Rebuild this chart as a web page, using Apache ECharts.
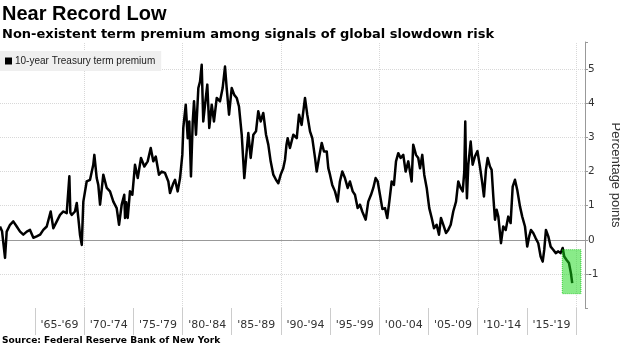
<!DOCTYPE html>
<html><head><meta charset="utf-8">
<script src="https://cdn.jsdelivr.net/npm/echarts@6/dist/echarts.min.js"></script>
<style>html,body{margin:0;padding:0;background:#fff}#c{width:620px;height:348px}</style>
</head><body><div id="c"></div>
<script>
const periodLabels = ["'65-'69","'70-'74","'75-'79","'80-'84","'85-'89","'90-'94","'95-'99","'00-'04","'05-'09","'10-'14","'15-'19"];
const yTicks = [-1,0,1,2,3,4,5];
const decadeYears = [1970,1980,1990,2000,2010,2020];
const years = [
1961.44,1961.65,1961.95,1962.12,1962.46,1962.79,1963.14,1963.48,1963.81,1964.16,1964.49,1964.83,
1965.17,1965.51,1965.84,1966.19,1966.59,1966.86,1967.21,1967.54,1967.88,1968.22,1968.49,1968.59,1968.73,1969.06,1969.24,1969.40,1969.57,1969.75,1969.91,
1970.25,1970.59,1970.92,1971.03,1971.27,1971.43,1971.61,1971.94,1972.29,1972.62,1972.96,1973.30,1973.54,1973.81,1974.07,1974.15,1974.27,1974.42,1974.65,1974.89,
1975.16,1975.44,1975.77,1976.11,1976.45,1976.76,1977.02,1977.27,1977.60,1977.88,1978.21,1978.55,1978.72,1979.06,1979.23,1979.50,1979.74,1979.97,
1980.07,1980.32,1980.52,1980.68,1980.85,1981.03,1981.16,1981.36,1981.60,1981.77,1981.94,1982.10,1982.28,1982.51,1982.71,1982.96,1983.19,1983.47,1983.80,1984.07,1984.31,1984.48,1984.72,1984.99,
1985.25,1985.50,1985.73,1986.01,1986.17,1986.27,1986.51,1986.68,1986.92,1987.19,1987.46,1987.69,1987.94,1988.20,1988.48,1988.71,1988.95,1989.22,1989.49,1989.73,1989.97,
1990.23,1990.41,1990.56,1990.68,1990.91,1991.25,1991.60,1991.83,1992.10,1992.44,1992.67,1992.95,1993.18,1993.46,1993.63,1993.86,1994.14,1994.37,1994.65,1994.81,1994.98,
1995.21,1995.49,1995.76,1995.99,1996.23,1996.50,1996.78,1997.01,1997.29,1997.52,1997.79,1998.03,1998.26,1998.61,1998.87,1999.15,1999.38,1999.62,1999.83,
2000.06,2000.31,2000.57,2000.80,2001.01,2001.25,2001.48,2001.69,2001.92,2002.16,2002.43,2002.67,2002.94,2003.28,2003.44,2003.72,2003.95,2004.13,2004.36,2004.56,2004.81,
2005.07,2005.32,2005.55,2005.82,2006.06,2006.26,2006.50,2006.77,2007.00,2007.25,2007.51,2007.79,2008.02,2008.26,2008.47,2008.63,2008.73,2008.80,2008.90,2009.04,2009.28,2009.48,2009.72,2009.97,
2010.22,2010.46,2010.63,2010.83,2011.01,2011.24,2011.41,2011.58,2011.75,2011.92,2012.09,2012.36,2012.59,2012.84,2013.10,2013.34,2013.55,2013.78,2014.01,2014.29,2014.52,2014.80,
2015.03,2015.23,2015.41,2015.64,2015.88,2016.15,2016.39,2016.60,2016.76,2016.93,2017.17,2017.41,2017.67,2017.92,2018.18,2018.42,2018.63,2018.79,2019.03,2019.27,2019.47,2019.60
];
const premium = [
0.39,0.25,-0.53,0.24,0.44,0.54,0.39,0.24,0.15,0.24,0.29,0.06,
0.10,0.15,0.29,0.39,0.83,0.34,0.54,0.73,0.83,0.78,1.86,0.80,0.73,0.83,1.08,0.64,0.15,-0.15,1.12,
1.71,1.76,2.20,2.49,1.81,1.61,1.03,1.91,1.52,1.42,1.12,0.93,0.44,1.03,1.32,0.64,1.10,0.64,1.42,1.32,
2.20,1.81,2.40,2.15,2.30,2.69,2.30,2.44,1.91,2.00,1.96,1.71,1.37,1.66,1.76,1.42,1.81,2.49,
3.28,3.96,2.98,3.47,1.86,3.47,4.06,3.08,4.45,4.64,5.13,3.47,3.96,4.55,3.28,3.96,3.47,4.16,4.06,4.45,5.08,4.45,3.67,4.45,
4.25,4.16,3.91,3.08,2.30,1.81,2.59,3.13,2.40,3.08,3.18,3.77,3.47,3.72,3.08,2.79,2.30,1.91,1.76,1.66,1.91,
2.10,2.35,2.79,2.98,2.69,3.08,2.98,3.67,3.37,4.16,3.67,3.18,2.98,2.40,2.00,2.40,2.84,2.59,2.59,2.10,1.91,
1.61,1.42,1.12,1.71,2.00,1.81,1.52,1.71,1.42,1.32,0.93,1.03,0.83,0.59,1.12,1.32,1.52,1.81,1.71,
1.32,0.90,0.93,0.64,1.12,1.71,1.61,2.30,2.54,2.40,2.49,2.00,2.30,1.71,2.79,2.49,2.40,2.10,2.49,1.91,1.52,
0.93,0.64,0.34,0.44,0.15,0.64,0.44,0.20,0.29,0.44,0.83,1.12,1.71,1.52,1.42,2.00,3.47,2.20,1.22,2.20,2.88,2.20,2.45,2.60,
2.15,1.66,1.27,2.05,2.40,2.15,2.05,1.27,0.59,0.88,0.68,-0.10,0.39,0.29,0.68,0.49,1.56,1.76,1.47,0.98,0.68,0.39,
-0.20,0.10,0.29,0.20,0.05,-0.10,-0.49,-0.64,-0.29,0.29,0.10,-0.20,-0.29,-0.39,-0.34,-0.39,-0.24,-0.49,-0.59,-0.68,-0.98,-1.27
];
const highlightFrom = [2018.59, -0.29];
const highlightTo = [2020.49, -1.58];
const xMin = 1961.44, xMax = 2020.90, yMin = -2, yMax = 5.8;

const seriesData = years.map((y, i) => [y, premium[i]]);
const chart = echarts.init(document.getElementById('c'), null, {renderer: 'canvas'});
const FONT = "'Liberation Sans', Arial, sans-serif";
const DV = "'DejaVu Sans', sans-serif";
const option = {
  animation: false,
  title: [
    {text: 'Near Record Low', left: 2, top: 4, padding: 0,
     textStyle: {fontFamily: FONT, fontWeight: 'bold', fontSize: 20, color: '#000'}},
    {text: 'Non-existent term premium among signals of global slowdown risk', left: 2, top: 28, padding: 0,
     textStyle: {fontFamily: DV, fontWeight: 'bold', fontSize: 13, color: '#000'}},
    {text: 'Source: Federal Reserve Bank of New York', left: 2, top: 336, padding: 0,
     textStyle: {fontFamily: DV, fontWeight: 'bold', fontSize: 9.1, color: '#000'}}
  ],
  legend: {
    data: ['10-year Treasury term premium'], left: 0, top: 51, padding: [5, 6, 5, 5],
    backgroundColor: '#efefef', icon: 'rect', itemWidth: 7, itemHeight: 7, itemGap: 4,
    textStyle: {fontFamily: FONT, fontSize: 10, color: '#222', padding: [0, 0, 0, -2]}
  },
  grid: [
    {left: 0, right: 35, top: 42, bottom: 40, containLabel: false, outerBoundsMode: 'none'},
    {left: 35, right: 44, top: 42, bottom: 40, containLabel: false, outerBoundsMode: 'none'}
  ],
  xAxis: [
    {type: 'value', gridIndex: 0, min: xMin, max: xMax,
     axisLine: {show: true, lineStyle: {color: '#999', width: 1}},
     axisTick: {show: false}, axisLabel: {show: false}, splitLine: {show: false}},
    {type: 'category', gridIndex: 1, data: periodLabels, boundaryGap: true,
     axisLine: {show: false},
     axisTick: {show: true, length: 27, lineStyle: {color: '#ccc', width: 1}},
     axisLabel: {margin: 12, fontFamily: DV, fontSize: 11, color: '#333', interval: 0},
     splitLine: {show: false}}
  ],
  yAxis: [
    {type: 'value', gridIndex: 0, position: 'right', min: yMin, max: yMax, interval: 1,
     name: 'Percentage points', nameLocation: 'middle', nameRotate: -90, nameGap: 20,
     nameTextStyle: {fontFamily: FONT, fontSize: 13, color: '#333'},
     axisLine: {show: true, lineStyle: {color: '#999', width: 1}},
     axisTick: {show: true, length: 3, lineStyle: {color: '#999'}},
     axisLabel: {margin: 3, fontFamily: DV, fontSize: 10.5, color: '#333',
       formatter: v => (yTicks.indexOf(v) >= 0 ? String(v) : '')},
     splitLine: {show: true, showMinLine: false, showMaxLine: false, lineStyle: {color: '#d8d8d8', type: 'dotted', width: 1}}},
    {type: 'value', gridIndex: 1, show: false}
  ],
  series: [
    {name: 'gridlines', type: 'line', xAxisIndex: 0, yAxisIndex: 0, data: [], z: 1, silent: true,
     markLine: {z: 1, symbol: 'none', silent: true, label: {show: false},
       lineStyle: {color: '#d8d8d8', type: 'dotted', width: 1},
       data: decadeYears.map(y => ({xAxis: y}))}},
    {name: '10-year Treasury term premium', type: 'line', xAxisIndex: 0, yAxisIndex: 0,
     data: seriesData, showSymbol: false, symbol: 'none', z: 3,
     itemStyle: {color: '#000'}, lineStyle: {color: '#000', width: 2.5, join: 'round'}},
    {name: 'highlight', type: 'line', xAxisIndex: 0, yAxisIndex: 0, data: [], z: 6, silent: true,
     markArea: {z: 6, silent: true,
       itemStyle: {color: 'rgba(20,215,20,0.5)', borderColor: 'rgba(0,190,0,0.7)', borderWidth: 1, borderType: 'dotted'},
       data: [[{coord: highlightFrom}, {coord: highlightTo}]]}}
  ]
};
chart.setOption(option);
</script></body></html>
